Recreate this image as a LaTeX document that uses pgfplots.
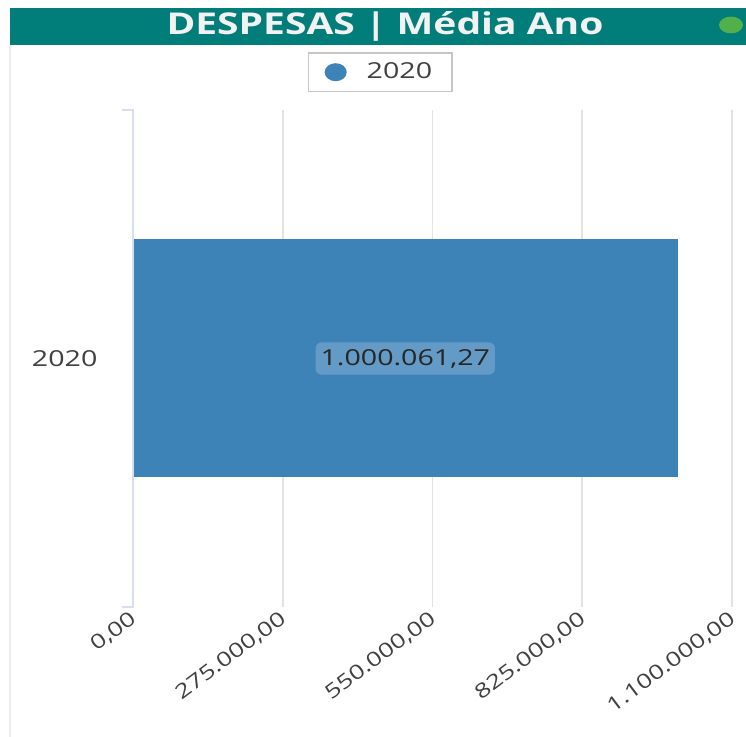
\documentclass[border=0pt]{standalone}
\usepackage{pgfplots}
\pgfplotsset{compat=1.18}
\usepackage{fontspec}
\setmainfont{Open Sans}[FakeStretch=1.3]
\definecolor{teal1}{HTML}{017D7A}
\definecolor{barblue}{HTML}{3D83B8}
\definecolor{gridc}{HTML}{E3E3E3}
\definecolor{axc}{HTML}{D6DFEF}
\definecolor{txt}{HTML}{404040}
\definecolor{dotgreen}{HTML}{52B04A}
\begin{document}
\begin{tikzpicture}
\useasboundingbox (0,0) rectangle (373pt,368.5pt);
\begin{scope}[x=0.5pt,y=0.5pt]
\fill[white] (0,0) rectangle (746,737);
% card border and title bar
\draw[gray!15, line width=1pt] (10,0) -- (10,692);
\fill[teal1] (10,692) rectangle (746,729);
\node[text=white!95!black, font=\fontsize{15}{18}\selectfont\bfseries] at (385,710.5) {DESPESAS | Média Ano};
\fill[dotgreen] (731,712) ellipse (6pt and 4.2pt);
\end{scope}
\begin{axis}[
  at={(66.5pt,65pt)}, anchor=south west,
  scale only axis, width=299.5pt, height=248.5pt,
  xbar, bar width=119pt,
  xmin=0, xmax=1100000, ymin=-1, ymax=1,
  scaled x ticks=false,
  axis y line*=left, axis x line*=bottom,
  x axis line style={draw=none},
  y axis line style={draw=none},
  xtick={0,275000,550000,825000,1100000},
  xticklabels={{0,00},{275.000,00},{550.000,00},{825.000,00},{1.100.000,00}},
  xmajorgrids, grid style={gridc, line width=0.8pt},
  major x tick style={draw=none},
  ytick={0}, yticklabels={2020},
  major y tick style={draw=none},
  xticklabel style={rotate=37, anchor=east, text=txt, font=\fontsize{10}{12}\selectfont, yshift=-4pt, xshift=1pt},
  yticklabel style={anchor=east, xshift=-10pt, text=txt, font=\fontsize{11}{13}\selectfont},
  legend style={at={(0.413,1.076)}, anchor=center, draw=gray!45, line width=0.8pt,
    font=\fontsize{11}{13}\selectfont, text=txt, inner xsep=8pt, inner ysep=3pt},
  legend image code/.code={\fill[barblue] (0.15cm,0) ellipse (5.5pt and 4.5pt);},
  clip=false,
]
\addplot[fill=barblue, draw=none] coordinates {(1000061.27,0)};
\addlegendentry{\hspace{8pt}2020}
\draw[axc, line width=1.2pt] ([xshift=-5.5pt]rel axis cs:0,1) -- (rel axis cs:0,1) -- (rel axis cs:0,0) -- ([xshift=-5.5pt]rel axis cs:0,0);
\node[fill=white, fill opacity=0.2, text opacity=1, text=black!85, rounded corners=3pt,
  inner xsep=2.5pt, minimum height=14pt, font=\fontsize{11}{13}\selectfont]
  at (axis cs:500030.635,0) {1.000.061,27};
\end{axis}
\end{tikzpicture}
\end{document}
